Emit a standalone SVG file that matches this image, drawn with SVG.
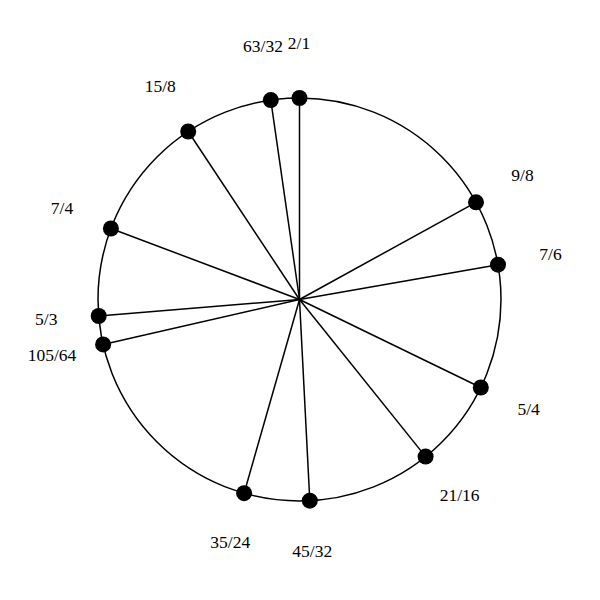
<svg xmlns="http://www.w3.org/2000/svg" width="600" height="600" viewBox="0 0 600 600">
<style>
.rim{fill:none;stroke:#000;stroke-width:1.5}
.spoke{stroke:#000;stroke-width:1.5}
.dot{fill:#000}
text{font-family:"Liberation Serif","Times New Roman",serif;font-size:17.5px;fill:#000;text-anchor:middle}
</style>
<rect width="600" height="600" fill="#fff"/>
<g id="connectors">
<line class="spoke" x1="299.5" y1="299.5" x2="299.5" y2="98"/>
<line class="spoke" x1="299.5" y1="299.5" x2="476.0" y2="202.3"/>
<line class="spoke" x1="299.5" y1="299.5" x2="498.0" y2="264.7"/>
<line class="spoke" x1="299.5" y1="299.5" x2="480.8" y2="387.5"/>
<line class="spoke" x1="299.5" y1="299.5" x2="425.6" y2="456.6"/>
<line class="spoke" x1="299.5" y1="299.5" x2="309.8" y2="500.7"/>
<line class="spoke" x1="299.5" y1="299.5" x2="244.1" y2="493.2"/>
<line class="spoke" x1="299.5" y1="299.5" x2="103.1" y2="344.4"/>
<line class="spoke" x1="299.5" y1="299.5" x2="98.7" y2="316.0"/>
<line class="spoke" x1="299.5" y1="299.5" x2="110.9" y2="228.5"/>
<line class="spoke" x1="299.5" y1="299.5" x2="188.2" y2="131.5"/>
<line class="spoke" x1="299.5" y1="299.5" x2="270.8" y2="100.1"/>
</g>
<circle id="rim" class="rim" cx="299.5" cy="299.5" r="201.5"/>
<g id="n-2-1"><circle class="dot" cx="299.5" cy="98" r="8"/><text x="299" y="49">2/1</text></g>
<g id="n-9-8"><circle class="dot" cx="476.0" cy="202.3" r="8"/><text x="522.5" y="180.7">9/8</text></g>
<g id="n-7-6"><circle class="dot" cx="498.0" cy="264.7" r="8"/><text x="550.5" y="260">7/6</text></g>
<g id="n-5-4"><circle class="dot" cx="480.8" cy="387.5" r="8"/><text x="528.7" y="415">5/4</text></g>
<g id="n-21-16"><circle class="dot" cx="425.6" cy="456.6" r="8"/><text x="459.7" y="500.7">21/16</text></g>
<g id="n-45-32"><circle class="dot" cx="309.8" cy="500.7" r="8"/><text x="312.3" y="557">45/32</text></g>
<g id="n-35-24"><circle class="dot" cx="244.1" cy="493.2" r="8"/><text x="230.3" y="548">35/24</text></g>
<g id="n-105-64"><circle class="dot" cx="103.1" cy="344.4" r="8"/><text x="52" y="361">105/64</text></g>
<g id="n-5-3"><circle class="dot" cx="98.7" cy="316.0" r="8"/><text x="46.3" y="325">5/3</text></g>
<g id="n-7-4"><circle class="dot" cx="110.9" cy="228.5" r="8"/><text x="62" y="214.3">7/4</text></g>
<g id="n-15-8"><circle class="dot" cx="188.2" cy="131.5" r="8"/><text x="160.3" y="91.7">15/8</text></g>
<g id="n-63-32"><circle class="dot" cx="270.8" cy="100.1" r="8"/><text x="263" y="51.5">63/32</text></g>
</svg>
